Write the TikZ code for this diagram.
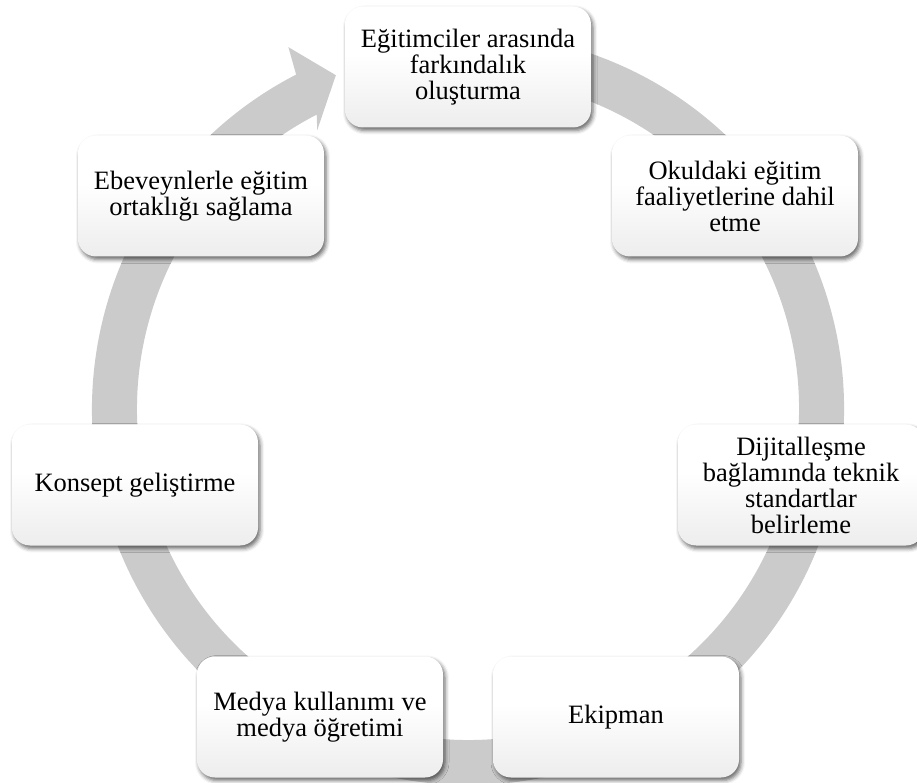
\documentclass[tikz,border=0pt]{standalone}
\usepackage{fontspec}
\setmainfont{Liberation Serif}
\usetikzlibrary{shadows.blur}
\definecolor{ringgray}{HTML}{CBCBCB}
\pgfdeclareverticalshading{boxshade}{100bp}{color(0bp)=(black!12); color(30bp)=(black!6); color(55bp)=(white); color(100bp)=(white)}
\tikzset{
  cyclebox/.style={rectangle, rounded corners=18pt, minimum width=246pt, minimum height=121pt,
    inner sep=2pt, align=center, shading=boxshade, text=black,
    font=\fontsize{26.5}{26}\selectfont,
    blur shadow={shadow xshift=2pt, shadow yshift=-3pt, shadow blur radius=4pt, shadow opacity=60}},
}
\begin{document}
\begin{tikzpicture}[x=1pt,y=1pt]
\useasboundingbox (0,0) rectangle (917,782);
\coordinate (C) at (468,373);
% ring with arrow
\begin{scope}[shift={(C)}]
\fill[ringgray] (80:376) arc[start angle=80, end angle=-242.8, radius=376]
  -- (116.4:404) -- (111.6:359) -- (118.4:317)
  -- (-242.8:331) arc[start angle=-242.8, end angle=80, radius=331] -- cycle;
\end{scope}
% boxes
\node[cyclebox] (n1) at (468,715) {Eğitimciler arasında\\farkındalık\\oluşturma};
\node[cyclebox] (n2) at (735,586) {Okuldaki eğitim\\faaliyetlerine dahil\\etme};
\node[cyclebox] (n3) at (801,297) {Dijitalleşme\\bağlamında teknik\\standartlar\\belirleme};
\node[cyclebox] (n4) at (616,65) {Ekipman};
\node[cyclebox] (n5) at (320,65) {Medya kullanımı ve\\medya öğretimi};
\node[cyclebox] (n6) at (135,297) {Konsept geliştirme};
\node[cyclebox] (n7) at (201,586) {Ebeveynlerle eğitim\\ortaklığı sağlama};
\end{tikzpicture}
\end{document}
